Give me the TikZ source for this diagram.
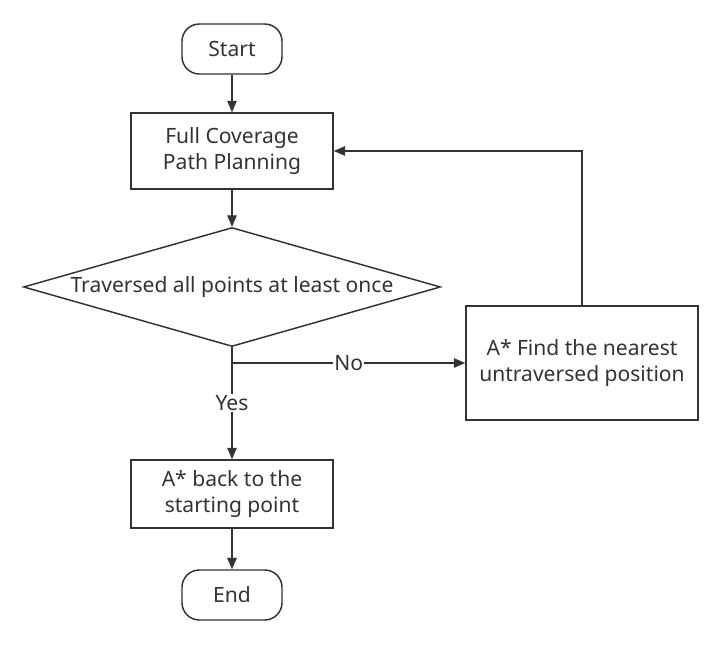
\documentclass[tikz,border=0pt]{standalone}
\usepackage{fontspec}
\setmainfont{Noto Sans}
\usetikzlibrary{shapes.geometric,arrows.meta}
\definecolor{ink}{HTML}{333333}
\tikzset{
    every node/.style={font=\fontsize{15.8}{19.5}\selectfont, text=ink, align=center}
}
\tikzset{
    term/.style={draw=ink, line width=1.1pt, rounded corners=13pt,
        minimum width=75pt, minimum height=37.5pt, inner sep=0pt},
    proc/.style={draw=ink, line width=1.1pt, minimum width=151.5pt, inner sep=0pt},
    decide/.style={draw=ink, line width=1.1pt, diamond, aspect=3.5,
        minimum width=312.75pt, minimum height=89.25pt, inner sep=0pt},
    tag/.style={fill=white, inner sep=1pt},
    flow/.style={draw=ink, line width=1.1pt, -{Triangle[length=8.5pt,width=7pt]}}
}

\begin{document}
\begin{tikzpicture}[x=0.75pt,y=-0.75pt]
  \useasboundingbox (0,0) rectangle (722,645);
  \node [term] (start) at (232,49) {Start};
  \node [proc, minimum height=57pt] (cover) at (232,151) {Full Coverage\\Path Planning};
  \node [decide] (check) at (232,287) {Traversed all points at least once};
  \node [proc, minimum width=174pt, minimum height=85.5pt] (seek) at (582,363) {A* Find the nearest\\untraversed position};
  \node [proc, minimum height=51pt] (home) at (232,494) {A* back to the\\starting point};
  \node [term] (end) at (232,595) {End};
  \coordinate (fork) at (check.south |- seek.west);
  \draw [flow] (start) -- (cover);
  \draw [flow] (cover) -- (check);
  \draw [flow] (check.south) -- node [tag] {Yes} (home);
  \draw [flow] (fork) -- node [tag] {No} (seek);
  \draw [flow] (seek.north) |- (cover.east);
  \draw [flow] (home) -- (end);
\end{tikzpicture}
\end{document}
